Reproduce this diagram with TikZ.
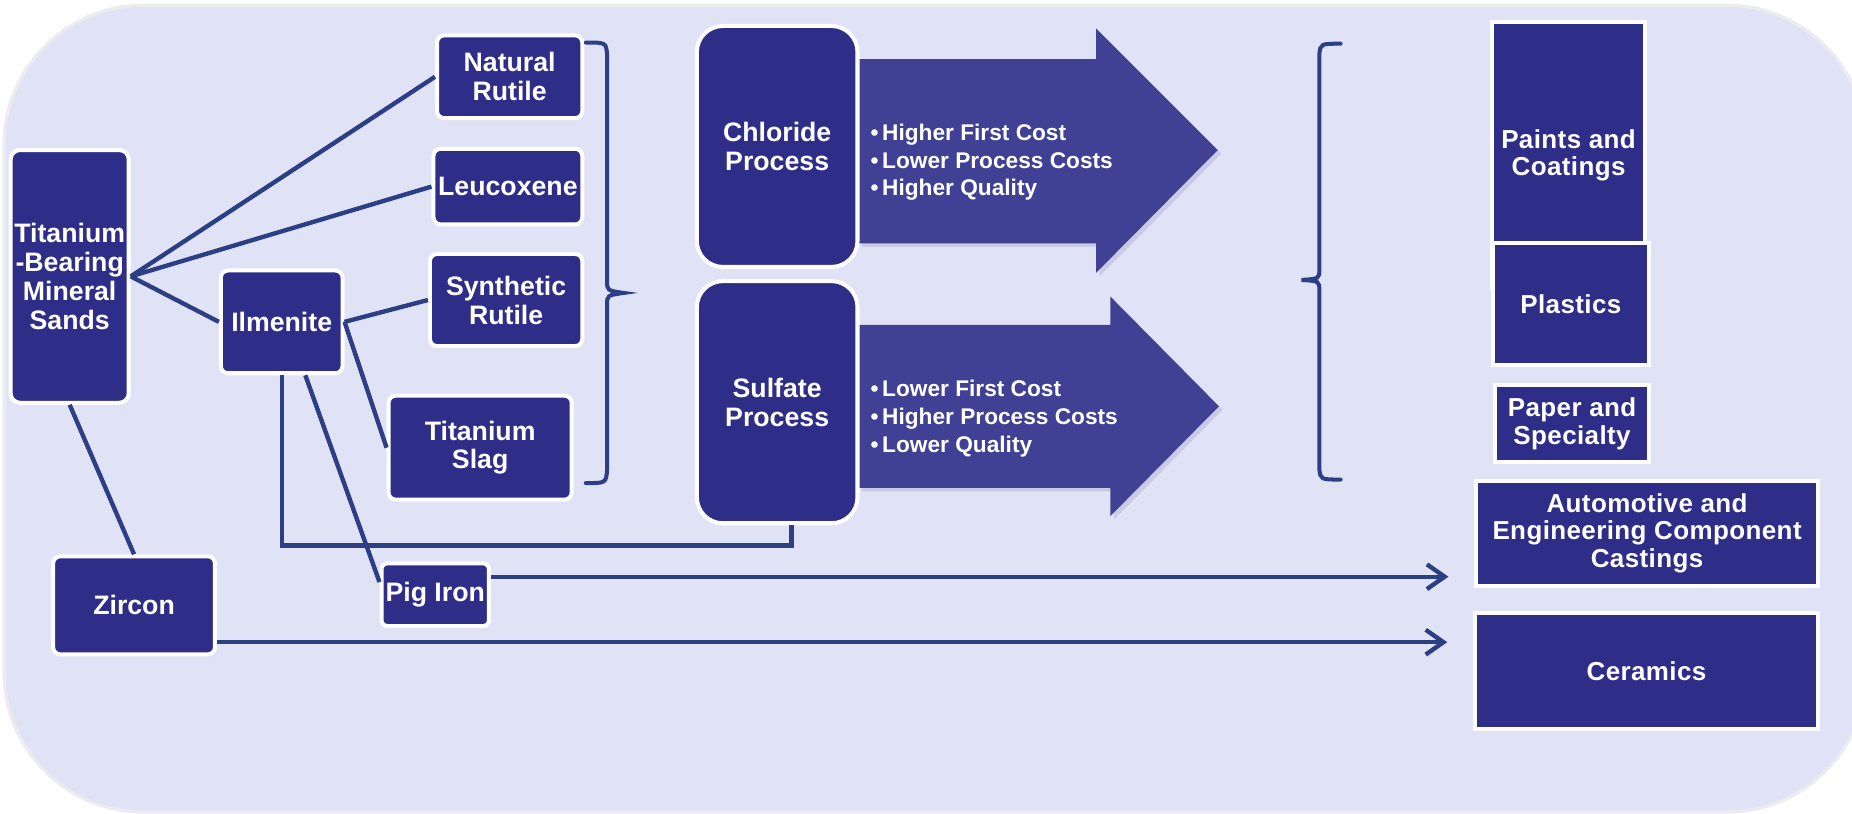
\documentclass[tikz,border=0pt]{standalone}
\usepackage{fontspec}
\setmainfont{Liberation Sans}
\newfontfamily\widesans[LetterSpace=1.5]{Liberation Sans}
\usetikzlibrary{arrows.meta,calc}
\definecolor{bgfill}{RGB}{224,226,245}
\definecolor{bgedge}{RGB}{236,236,240}
\definecolor{boxfill}{RGB}{46,45,135}
\definecolor{arrfill}{RGB}{64,64,148}
\definecolor{arrshadow}{RGB}{200,202,230}
\definecolor{conncol}{RGB}{44,62,132}
\begin{document}
\begin{tikzpicture}[x=1pt,y=-1pt,
  base/.style={fill=boxfill, draw=white, line width=3.4pt, text=white, inner sep=0pt, align=center,
    font=\fontsize{22.6}{24.5}\selectfont\bfseries},
  rbox/.style={base, rounded corners=6pt},
  bigbox/.style={base, rounded corners=22pt},
  sbox/.style={base, font=\widesans\fontsize{22}{23.5}\selectfont\bfseries},
  bul/.style={text=white, align=left, inner sep=0pt, anchor=west,
    font=\fontsize{19.2}{23.5}\selectfont\bfseries},
  link/.style={draw=conncol, line width=3.7pt},
  arr/.style={link, -{Straight Barb[length=15pt,width=21pt]}},
  bigarrow/.style={fill=arrfill},
  arrshade/.style={fill=arrshadow},
  brace/.style={draw=conncol, line width=3.4pt, line cap=round}
]
\useasboundingbox (0,0) rectangle (1568,689);
% background panel
\draw[fill=bgfill, draw=bgedge, line width=2.8pt, rounded corners=118pt] (3.5,4.5) rectangle (1580,687.5);

% big arrows (shadow then arrow)
\fill[arrshade, shift={(3,3)}] (727,50) -- (928,50) -- (928,24) -- (1031,127) -- (928,231) -- (928,206) -- (727,206) -- cycle;
\fill[bigarrow] (727,50) -- (928,50) -- (928,24) -- (1031,127) -- (928,231) -- (928,206) -- (727,206) -- cycle;
\fill[arrshade, shift={(3,3)}] (727,275) -- (940,275) -- (940,251) -- (1032,344) -- (940,437) -- (940,413) -- (727,413) -- cycle;
\fill[bigarrow] (727,275) -- (940,275) -- (940,251) -- (1032,344) -- (940,437) -- (940,413) -- (727,413) -- cycle;

% nodes
\node[rbox, rounded corners=8pt, minimum width=100pt, minimum height=214pt] (tbms) at (59,234) {Titanium\\-Bearing\\Mineral\\Sands};
\node[rbox, minimum width=123pt, minimum height=70pt] (nr) at (431.5,65) {Natural\\Rutile};
\node[rbox, minimum width=126pt, minimum height=64pt] (leuc) at (430,158) {Leucoxene};
\node[rbox, minimum width=129pt, minimum height=78pt] (sr) at (428.5,254) {Synthetic\\Rutile};
\node[rbox, minimum width=155pt, minimum height=88pt] (slag) at (406.5,379) {Titanium\\Slag};
\node[rbox, minimum width=103pt, minimum height=87pt] (ilm) at (238.5,272.5) {Ilmenite};
\node[rbox, minimum width=137pt, minimum height=83pt] (zir) at (113.5,512.5) {Zircon};
\node[rbox, rounded corners=5pt, minimum width=91pt, minimum height=53pt] (pig) at (368.5,503.5) {Pig Iron};
\node[bigbox, minimum width=136pt, minimum height=204pt] (chl) at (658,124) {Chloride\\Process};
\node[bigbox, minimum width=136pt, minimum height=205pt] (sul) at (658,340.5) {Sulfate\\Process};

\node[bul] (b1) at (737,137.5) {\textbullet\hspace{3pt}Higher First Cost\\\textbullet\hspace{3pt}Lower Process Costs\\\textbullet\hspace{3pt}Higher Quality};
\node[bul] (b2) at (737,354.5) {\textbullet\hspace{3pt}Lower First Cost\\\textbullet\hspace{3pt}Higher Process Costs\\\textbullet\hspace{3pt}Lower Quality};

\node[sbox, minimum width=130pt, minimum height=225pt] (paint) at (1328,131.5) {Paints and\\Coatings};
\node[sbox, minimum width=132pt, minimum height=103pt] (plast) at (1330,257.5) {Plastics};
\node[sbox, minimum width=130pt, minimum height=65pt] (paper) at (1331,358.5) {Paper and\\Specialty};
\node[sbox, minimum width=289pt, minimum height=89pt] (auto) at (1394.5,451.5) {Automotive and\\Engineering Component\\Castings};
\node[sbox, minimum width=290pt, minimum height=98pt] (cer) at (1394,568) {Ceramics};

% connectors
\draw[link] (tbms.east) -- (nr.west);
\draw[link] (tbms.east) -- (leuc.west);
\draw[link] (tbms.east) -- (ilm.west);
\draw[link] (ilm.east) -- (sr.west);
\draw[link] (ilm.east) -- (slag.west);
\draw[link] (tbms.south) -- (zir.north);
\coordinate (ilmB) at ($(ilm.south)+(20,0)$);
\coordinate (pigW) at ($(pig.north west)!0.31!(pig.south west)$);
\draw[link] (ilmB) -- (pigW);
\coordinate (sulB) at ($(sul.south)+(12,0)$);
\draw[link] (ilm.south) |- ($(sulB)+(0,17)$) -- (sulB);
\coordinate (pigE) at ($(pig.north east)!0.23!(pig.south east)$);
\coordinate (autoW) at ($(auto.west)+(-22,0)$);
\draw[arr] (pigE) -- (pigE -| autoW);
\coordinate (zirE) at ($(zir.south east)+(0,-12)$);
\coordinate (cerW) at ($(cer.west)+(-22,0)$);
\draw[arr] (zirE) -- (zirE -| cerW);

% braces
\draw[brace] (496,36) .. controls (513,36) .. (514,46) -- (514,238) .. controls (514,246) .. (528,248)
  .. controls (514,250) .. (514,258) -- (514,398) .. controls (513,409) .. (496,409);
\draw[brace] (1135,37) .. controls (1118,37) .. (1117,46) -- (1117,228) .. controls (1117,236) .. (1102,237)
  .. controls (1117,238) .. (1117,246) -- (1117,397) .. controls (1118,406) .. (1135,406);
\end{tikzpicture}
\end{document}
